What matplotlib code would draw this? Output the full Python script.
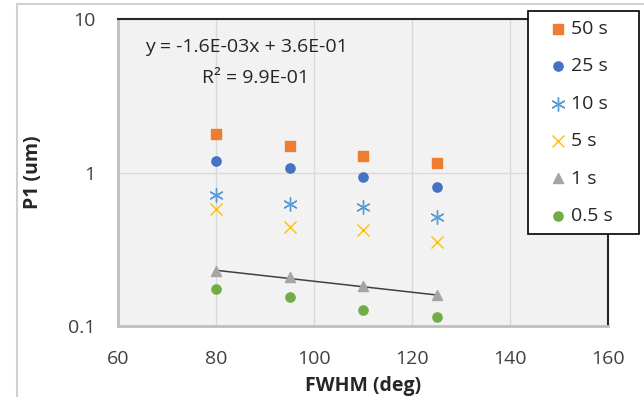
import matplotlib.pyplot as plt
import numpy as np
from matplotlib.patches import Rectangle

plt.rcParams['font.family'] = ['Open Sans', 'DejaVu Sans']

fwhm = [80, 95, 110, 125]
p_50s = [1.78, 1.48, 1.29, 1.16]
p_25s = [1.19, 1.07, 0.935, 0.81]
p_10s = [0.71, 0.62, 0.60, 0.51]
p_5s = [0.58, 0.44, 0.42, 0.35]
p_1s = [0.229, 0.21, 0.182, 0.159]
p_05s = [0.174, 0.155, 0.128, 0.114]

labels = ['50 s', '25 s', '10 s', '5 s', '1 s', '0.5 s']

W, H = 644, 397
fig = plt.figure(figsize=(6.44, 3.97), dpi=100)
ax = fig.add_axes([118/W, 1 - 326/H, (608-118)/W, (326-19)/H])
ax.set_facecolor('#f2f2f2')

# outer chart border
fig.patches.append(Rectangle((17/W, -0.1), 1.1, 1 - 4/H + 0.1, transform=fig.transFigure,
                             fill=False, edgecolor='#d0d0d0', lw=1.5))

ax.scatter(fwhm, p_50s, marker='s', s=52, color='#ED7D31', label=labels[0], zorder=3)
ax.scatter(fwhm, p_25s, marker='o', s=44, color='#4472C4', label=labels[1], zorder=3)
ax.scatter(fwhm, p_10s, marker=(6, 2, 0), s=95, color='#5B9BD5', linewidths=1, label=labels[2], zorder=3)
ax.scatter(fwhm, p_5s, marker='x', s=75, color='#FFC000', linewidths=1, label=labels[3], zorder=3)
ax.scatter(fwhm, p_1s, marker='^', s=52, color='#A5A5A5', label=labels[4], zorder=3)
ax.scatter(fwhm, p_05s, marker='o', s=44, color='#70AD47', label=labels[5], zorder=3)

# linear trend on the 1 s series
coef = np.polyfit(fwhm, p_1s, 1)
xs = np.array([fwhm[0], fwhm[-1]])
ax.plot(xs, np.polyval(coef, xs), color='#404040', lw=1.1, zorder=2)

ax.set_yscale('log')
ax.set_xlim(60, 160)
ax.set_ylim(0.1, 10)
ax.set_xticks([60, 80, 100, 120, 140, 160])
ax.set_yticks([0.1, 1, 10])
ax.set_yticklabels(['0.1', '1', '10'])
ax.yaxis.set_minor_locator(plt.NullLocator())
ax.tick_params(length=0, labelsize=14, colors='#404040')
ax.tick_params(axis='y', pad=16)
ax.tick_params(axis='x', pad=17)
ax.grid(True, color='#d9d9d9', lw=1)
ax.set_axisbelow(True)
for s in ['top', 'right']:
    ax.spines[s].set_color('#262626')
    ax.spines[s].set_linewidth(1.5)
for s in ['left', 'bottom']:
    ax.spines[s].set_color('#bfbfbf')
    ax.spines[s].set_linewidth(2)

ax.set_xlabel('FWHM (deg)', fontsize=14, fontweight='bold', color='#262626')
ax.set_ylabel('P1 (um)', fontsize=14, fontweight='bold', color='#262626')
ax.xaxis.set_label_coords(0.5, -(376 - 326) / 307)
ax.yaxis.set_label_coords((33 - 118) / 490, 0.5)
ax.yaxis.label.set_va('center')

fig.text(145/W, 1 - 47/H, 'y = -1.6E-03x + 3.6E-01', fontsize=14, color='#262626',
         va='center', ha='left')
fig.text(256/W, 1 - 78/H, 'R² = 9.9E-01', fontsize=14, color='#262626', va='center', ha='center')

leg = ax.legend(loc='upper left', bbox_to_anchor=(528/W, 1 - 233/H, 111/W, 222/H),
                bbox_transform=fig.transFigure, mode='expand', borderaxespad=0,
                frameon=True, fancybox=False, edgecolor='#000000', fontsize=14,
                handletextpad=-0.45, handlelength=2.2, labelspacing=1.0, borderpad=0.45)
leg.get_frame().set_linewidth(1.2)
leg.get_frame().set_alpha(1)
for t in leg.get_texts():
    t.set_color('#262626')

fig.savefig('out.png', dpi=100)
